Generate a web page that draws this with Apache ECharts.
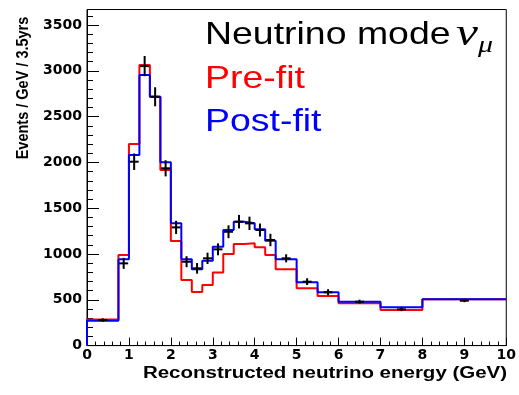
<!DOCTYPE html>
<html>
<head>
<meta charset="utf-8">
<script src="https://cdn.jsdelivr.net/npm/echarts@6/dist/echarts.min.js"></script>
<style>
  html, body { margin: 0; padding: 0; background: #fff; }
  #chart { width: 519px; height: 395px; }
</style>
</head>
<body>
<div id="chart"></div>
<script>
// Histogram bin edges (GeV)
const binEdges = [0, 0.75, 1.0, 1.25, 1.5, 1.75, 2.0, 2.25, 2.5, 2.75, 3.0, 3.25, 3.5,
                  3.75, 4.0, 4.25, 4.5, 5.0, 5.5, 6.0, 7.0, 8.0, 10.0];
// Post-fit prediction, events / GeV / 3.5yrs
const postFit = [272, 942, 2081, 2954, 2717, 2001, 1335, 942, 833, 927, 1080, 1262,
                 1353, 1335, 1270, 1145, 942, 691, 582, 479, 418, 505];
// Pre-fit prediction
const preFit = [285, 989, 2201, 3063, 2717, 1917, 1142, 716, 585, 662, 798, 1000,
                1110, 1117, 1073, 989, 833, 626, 541, 462, 389, 505];
// Data points: bin centre, value, statistical error
const dataX = [0.375, 0.875, 1.125, 1.375, 1.625, 1.875, 2.125, 2.375, 2.625, 2.875, 3.125,
               3.375, 3.625, 3.875, 4.125, 4.375, 4.75, 5.25, 5.75, 6.5, 7.5, 9.0];
const dataY = [279, 898, 2008, 3052, 2717, 1936, 1291, 916, 844, 953, 1051,
               1243, 1353, 1335, 1262, 1153, 953, 698, 582, 479, 396, 490];
const dataErr = [19, 60, 90, 110, 104, 88, 72, 60, 58, 62, 65,
                 70, 74, 73, 71, 68, 44, 37, 34, 22, 20, 16];
// Axis ticks
const xTicks = [0, 1, 2, 3, 4, 5, 6, 7, 8, 9, 10];
const yTicks = [0, 500, 1000, 1500, 2000, 2500, 3000, 3500];

// Turn bin contents into a stepped outline starting from the x axis
function histOutline(edges, vals) {
  const pts = [[edges[0], 0]];
  vals.forEach((v, i) => {
    pts.push([edges[i], v]);
    pts.push([edges[i + 1], v]);
  });
  return pts;
}

const chart = echarts.init(document.getElementById('chart'), null, { renderer: 'canvas' });

const tickFont = { fontFamily: 'DejaVu Sans', fontWeight: 'bold', fontSize: 14, color: '#000' };

chart.setOption({
  backgroundColor: '#fff',
  animation: false,
  grid: { left: 87, right: 9, top: 9.5, bottom: 49.4, show: true, borderColor: '#000', borderWidth: 1 },
  xAxis: {
    type: 'value', min: xTicks[0], max: xTicks[xTicks.length - 1], interval: 1,
    axisLine: { lineStyle: { color: '#000', width: 1 } },
    axisTick: { inside: true, length: 8, lineStyle: { color: '#000' } },
    minorTick: { show: true, splitNumber: 5, length: 4, lineStyle: { color: '#000' } },
    splitLine: { show: false },
    axisLabel: Object.assign({ margin: 3 }, tickFont)
  },
  yAxis: {
    type: 'value', min: yTicks[0], max: 3670, interval: 500,
    axisLine: { show: true, lineStyle: { color: '#000', width: 1 } },
    axisTick: { show: true, inside: true, length: 12, lineStyle: { color: '#000' } },
    minorTick: { show: true, splitNumber: 5, length: 6, lineStyle: { color: '#000' } },
    splitLine: { show: false },
    axisLabel: Object.assign({
      margin: 5,
      formatter: v => (yTicks.indexOf(v) >= 0 ? String(v) : '')
    }, tickFont)
  },
  series: [
    {
      name: 'Pre-fit', type: 'line', data: histOutline(binEdges, preFit),
      showSymbol: false, lineStyle: { color: '#ff0000', width: 2 }, z: 2
    },
    {
      name: 'Post-fit', type: 'line', data: histOutline(binEdges, postFit),
      showSymbol: false, lineStyle: { color: '#0000ff', width: 2 }, z: 3
    },
    {
      name: 'Data', type: 'custom', z: 4,
      data: dataX.map((x, i) => [x, dataY[i], dataErr[i]]),
      renderItem: function (params, api) {
        const x = api.value(0), y = api.value(1), e = api.value(2);
        const c = api.coord([x, y]);
        const top = api.coord([x, y + e]);
        const bot = api.coord([x, y - e]);
        const hw = 4.5;
        const st = { stroke: '#000', lineWidth: 2 };
        return {
          type: 'group',
          children: [
            { type: 'line', shape: { x1: c[0], y1: top[1], x2: c[0], y2: bot[1] }, style: st },
            { type: 'line', shape: { x1: c[0] - hw, y1: c[1], x2: c[0] + hw, y2: c[1] }, style: st }
          ]
        };
      }
    }
  ],
  graphic: [
    {
      type: 'text', x: 205, y: 35, scaleX: 1.17,
      style: { text: 'Neutrino mode', fill: '#000', font: '32px "Liberation Sans", Arial, sans-serif', verticalAlign: 'middle' }
    },
    {
      type: 'text', x: 456, y: 35, scaleX: 1.3,
      style: { text: 'ν', fill: '#000', font: 'italic 38px "Liberation Serif", serif', verticalAlign: 'middle' }
    },
    {
      type: 'text', x: 478, y: 46, scaleX: 1.25,
      style: { text: 'μ', fill: '#000', font: 'italic 24px "Liberation Serif", serif', verticalAlign: 'middle' }
    },
    {
      type: 'text', x: 205, y: 79, scaleX: 1.17,
      style: { text: 'Pre-fit', fill: '#ff0000', font: '32px "Liberation Sans", Arial, sans-serif', verticalAlign: 'middle' }
    },
    {
      type: 'text', x: 205, y: 122, scaleX: 1.17,
      style: { text: 'Post-fit', fill: '#0000ff', font: '32px "Liberation Sans", Arial, sans-serif', verticalAlign: 'middle' }
    },
    {
      type: 'text', x: 23, y: 88, rotation: Math.PI / 2, scaleY: 1.15,
      style: { text: 'Events / GeV / 3.5yrs', fill: '#000', font: 'bold 14.5px "Liberation Sans", Arial, sans-serif', align: 'center', verticalAlign: 'middle' }
    },
    {
      type: 'text', x: 325, y: 374, scaleX: 1.28, originX: 0,
      style: { text: 'Reconstructed neutrino energy (GeV)', fill: '#000', font: 'bold 16px "Liberation Sans", Arial, sans-serif', align: 'center', verticalAlign: 'middle' }
    }
  ]
});
</script>
</body>
</html>
